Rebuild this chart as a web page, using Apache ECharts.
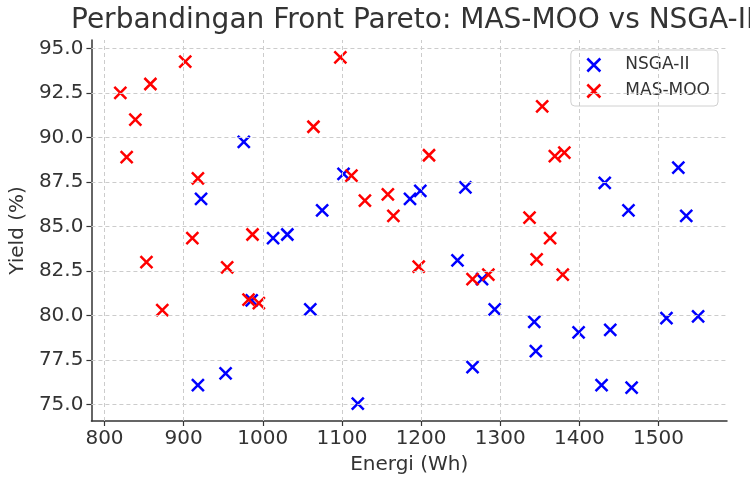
<!DOCTYPE html>
<html>
<head>
<meta charset="utf-8">
<script src="https://cdn.jsdelivr.net/npm/echarts@6/dist/echarts.min.js"></script>
<style>html,body{margin:0;padding:0;background:#fff;}#c{width:750px;height:480px;}</style>
</head>
<body>
<div id="c"></div>
<script>
const titleText = 'Perbandingan Front Pareto: MAS-MOO vs NSGA-II';
const xName = 'Energi (Wh)';
const yName = 'Yield (%)';
const xTicks = [800, 900, 1000, 1100, 1200, 1300, 1400, 1500];
const yTicks = [75.0, 77.5, 80.0, 82.5, 85.0, 87.5, 90.0, 92.5, 95.0];

const nsgaEnergy = [922, 976, 1075, 1102, 1186, 1199, 1256, 1432, 1462, 1525, 1535,
  986, 1013, 1031, 1060, 918, 953, 1120,
  1246, 1277, 1293, 1343, 1345, 1265, 1399, 1439, 1428, 1466, 1510, 1550];
const nsgaYield = [86.55, 89.75, 85.9, 87.95, 86.55, 87.0, 87.2, 87.45, 85.9, 88.3, 85.6,
  80.85, 84.35, 84.55, 80.35, 76.1, 76.75, 75.05,
  83.1, 82.05, 80.35, 79.65, 78.0, 77.1, 79.05, 79.2, 76.1, 75.95, 79.85, 79.95];

const masEnergy = [820, 839, 828, 858, 902, 918, 1064, 1098, 1112, 1129, 1158, 1165,
  1210, 1353, 1369, 1381, 1337,
  853, 873, 911, 955, 987, 982, 995,
  1197, 1265, 1285, 1363, 1346, 1379];
const masYield = [92.5, 91.0, 88.9, 93.0, 94.25, 87.7, 90.6, 94.5, 87.85, 86.45, 86.8, 85.6,
  89.0, 91.75, 88.95, 89.15, 85.5,
  83.0, 80.3, 84.35, 82.7, 84.55, 80.9, 80.7,
  82.75, 82.05, 82.3, 84.35, 83.15, 82.3];

const xMin = 783.5, xMax = 1586.5;
const yMin = 74.08, yMax = 95.47;

const xMark = 'path://M0,0L10,10M10,0L0,10';
const txt = '#333333';
const font = 'DejaVu Sans';

function pairs(a, b) { return a.map((v, i) => [v, b[i]]); }

const chart = echarts.init(document.getElementById('c'), null, {renderer: 'canvas'});
chart.setOption({
  animation: false,
  backgroundColor: '#ffffff',
  textStyle: {fontFamily: font},
  title: {
    text: titleText, left: 66, top: 2,
    textStyle: {fontFamily: font, fontSize: 28, fontWeight: 'normal', color: txt}
  },
  grid: {left: 90, right: 23, top: 40, bottom: 58},
  legend: {
    right: 32, top: 50, orient: 'vertical',
    padding: [6, 8, 6, 14], itemGap: 8,
    backgroundColor: '#ffffff', borderColor: '#d0d0d0', borderWidth: 1, borderRadius: 4,
    itemWidth: 13, itemHeight: 13,
    textStyle: {fontFamily: font, fontSize: 17, color: txt, padding: [0, 0, 0, 20]},
    data: [
      {name: 'NSGA-II', icon: xMark, itemStyle: {color: 'none', borderColor: '#0000ff', borderWidth: 2.5, opacity: 1}},
      {name: 'MAS-MOO', icon: xMark, itemStyle: {color: 'none', borderColor: '#ff0000', borderWidth: 2.5, opacity: 1}}
    ]
  },
  xAxis: {
    type: 'value', min: xMin, max: xMax,
    name: xName, nameLocation: 'middle', nameGap: 34,
    nameTextStyle: {fontFamily: font, fontSize: 20, color: txt},
    axisLine: {show: true, lineStyle: {color: '#333', width: 1.5}},
    axisTick: {show: true, customValues: xTicks, length: 5, lineStyle: {color: '#333', width: 1.2}},
    axisLabel: {customValues: xTicks, fontFamily: font, fontSize: 20, color: txt, margin: 8,
      formatter: v => String(v)},
    splitLine: {show: false}
  },
  yAxis: {
    type: 'value', min: yMin, max: yMax,
    name: yName, nameLocation: 'middle', nameGap: 62, nameRotate: 90,
    nameTextStyle: {fontFamily: font, fontSize: 20, color: txt},
    axisLine: {show: true, lineStyle: {color: '#333', width: 1.5}},
    axisTick: {show: true, customValues: yTicks, length: 5, lineStyle: {color: '#333', width: 1.2}},
    axisLabel: {customValues: yTicks, fontFamily: font, fontSize: 20, color: txt, margin: 8,
      formatter: v => v.toFixed(1)},
    splitLine: {show: false}
  },
  series: [
    {
      name: 'NSGA-II', type: 'scatter', symbol: xMark, symbolSize: 12,
      itemStyle: {color: 'none', borderColor: '#0000ff', borderWidth: 2.5, opacity: 1},
      data: pairs(nsgaEnergy, nsgaYield), z: 3
    },
    {
      name: 'MAS-MOO', type: 'scatter', symbol: xMark, symbolSize: 12,
      itemStyle: {color: 'none', borderColor: '#ff0000', borderWidth: 2.5, opacity: 1},
      data: pairs(masEnergy, masYield), z: 4
    },
    {
      name: 'grid', type: 'scatter', data: [], silent: true, z: 1,
      markLine: {
        silent: true, symbol: 'none', label: {show: false}, animation: false,
        lineStyle: {color: '#cccccc', type: [4, 3], width: 1},
        data: xTicks.map(v => ({xAxis: v})).concat(yTicks.map(v => ({yAxis: v})))
      }
    }
  ]
});
</script>
</body>
</html>
